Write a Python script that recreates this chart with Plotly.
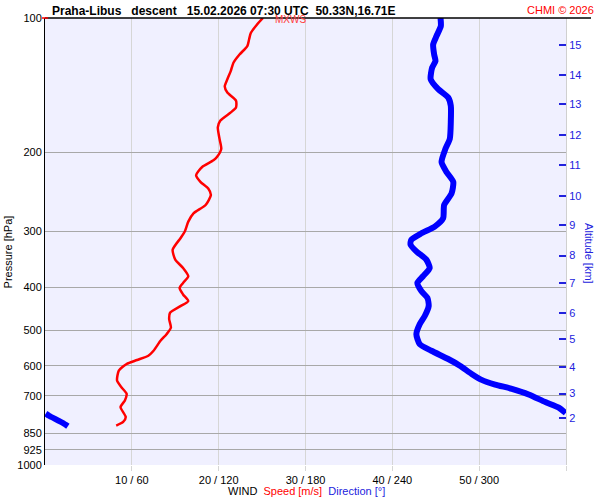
import plotly.graph_objects as go

# wind speed profile (m/s) vs pressure (hPa)
speed_hpa = [100, 103.5, 108.0, 111.7, 115.6, 120.7, 125.9, 131.3, 137.1, 142.3,
             146.8, 153.1, 158.5, 162.6, 169.6, 175.6, 186.4, 196.2, 204.7, 208.2,
             215.4, 224.8, 232.6, 240.7, 249.0, 262.0, 273.6, 285.5, 300.4, 310.9,
             329.9, 347.2, 362.5, 378.3, 391.4, 401.6, 415.4, 429.9, 441.1, 456.4,
             472.1, 492.8, 509.7, 527.5, 555.2, 569.6, 582.3, 594.3, 615.1, 647.3,
             669.9, 692.9, 717.0, 742.0, 781.0, 801.2, 816.1]
speed_ms = [25.1, 24.4, 23.7, 23.5, 23.3, 22.4, 21.7, 21.4, 21.0, 20.7,
            21.0, 22.0, 22.0, 21.4, 20.2, 19.9, 20.1, 20.3, 19.8, 19.4,
            18.1, 17.4, 17.9, 18.8, 19.1, 18.5, 17.1, 16.5, 16.1, 15.6,
            14.7, 15.0, 15.9, 16.5, 15.9, 15.5, 15.9, 16.5, 15.6, 14.4,
            14.3, 14.5, 14.0, 13.3, 12.5, 11.9, 10.6, 9.4, 8.5, 8.3,
            8.8, 9.4, 9.2, 8.7, 9.3, 9.0, 8.2]

# wind direction profile (deg) vs pressure (hPa)
dir_hpa = [100, 104.3, 109.8, 114.6, 120.7, 124.8, 129.2, 137.1, 144.3, 150.6,
           157.1, 171.1, 186.4, 196.2, 210.0, 221.0, 232.6, 247.0, 262.0, 280.7,
           292.9, 303.1, 313.5, 321.6, 332.8, 347.2, 362.5, 378.3, 391.4, 408.4,
           422.7, 441.1, 464.2, 484.2, 509.7, 536.4, 555.2, 579.3, 599.5, 625.5,
           645.1, 660.7, 675.4, 695.3, 723.3, 744.3, 765.2, 767.5, 776.9, 794.3,
           805.4, 819.0]
dir_deg = [273.3, 273.5, 270.5, 268.2, 268.9, 269.8, 267.5, 266.5, 271.7, 278.6,
           280.4, 280.4, 279.7, 276.7, 274.0, 277.4, 282.1, 280.9, 275.8, 275.1,
           269.3, 260.1, 253.1, 252.6, 256.6, 263.5, 265.8, 261.2, 257.3, 260.1,
           264.2, 265.1, 262.4, 258.9, 256.6, 258.9, 267.0, 278.6, 286.7, 294.8,
           301.7, 311.0, 322.6, 334.2, 345.7, 355.0, 359.8, 0.5, 3.1, 8.9,
           12.4, 15.8]

# altitude axis (km) and matching pressure (hPa)
alt_km = [2, 3, 4, 5, 6, 7, 8, 9, 10, 11, 12, 13, 14, 15]
alt_hpa = [786, 692, 603, 522, 457, 392, 340, 291, 250, 213, 183, 156, 134, 115]

p_ticks = [100, 200, 300, 400, 500, 600, 700, 850, 925, 1000]
x_ticks = [10, 20, 30, 40, 50, 60]
x_labels = ['10 / 60', '20 / 120', '30 / 180', '40 / 240', '50 / 300', '']

# break the direction line where it wraps past 360
dx, dy = [], []
for i, (d, p) in enumerate(zip(dir_deg, dir_hpa)):
    if i > 0 and abs(d - dir_deg[i - 1]) > 180:
        dx.append(None)
        dy.append(None)
    dx.append(d)
    dy.append(p)

font = 'Liberation Sans, Arial, sans-serif'

fig = go.Figure()
fig.add_trace(go.Scatter(x=dx, y=dy, mode='lines', xaxis='x2',
                         line=dict(color='#0000ff', width=6, shape='spline', smoothing=0.6),
                         showlegend=False))
fig.add_trace(go.Scatter(x=speed_ms, y=speed_hpa, mode='lines',
                         line=dict(color='#ff0000', width=2.5, shape='spline', smoothing=0.6),
                         showlegend=False))
# empty trace so the altitude axis gets drawn
fig.add_trace(go.Scatter(x=[None], y=[None], yaxis='y2', mode='lines',
                         showlegend=False, hoverinfo='skip'))

fig.update_layout(
    width=600, height=500,
    margin=dict(l=45, r=34, t=15, b=35),
    paper_bgcolor='white',
    plot_bgcolor='#f0f0ff',
    font=dict(family=font, size=11, color='black'),
    xaxis=dict(range=[0, 60], tickvals=x_ticks, ticktext=x_labels,
               showgrid=True, gridcolor='#d6d6d6', gridwidth=1,
               ticks='outside', ticklen=5, tickcolor='#d6d6d6',
               zeroline=False, showline=False),
    xaxis2=dict(range=[0, 360], overlaying='x', visible=False),
    yaxis=dict(type='log', range=[3, 2], tickvals=p_ticks,
               ticktext=[str(p) for p in p_ticks],
               showgrid=True, gridcolor='#a8a8a8', gridwidth=1,
               showline=True, linecolor='black', linewidth=1,
               ticks='', zeroline=False),
    yaxis2=dict(type='log', range=[3, 2], overlaying='y', side='right',
                tickvals=alt_hpa, ticktext=[str(a) for a in alt_km],
                ticks='inside', ticklen=7, tickwidth=1.5, tickcolor='#2222dd',
                tickfont=dict(color='#2222dd', size=11),
                showgrid=False, showline=True, linecolor='#d0d0d0', zeroline=False),
    shapes=[
        dict(type='line', xref='paper', yref='paper', x0=0, x1=1.048, y0=1, y1=1,
             line=dict(color='black', width=1.5)),
        dict(type='line', xref='paper', yref='paper', x0=-0.006, x1=0.006, y0=1, y1=1,
             line=dict(color='red', width=1.5)),
    ],
    annotations=[
        dict(text='<b>Praha-Libus\u00a0\u00a0\u00a0descent\u00a0\u00a0\u00a015.02.2026 07:30 UTC\u00a0\u00a050.33N,16.71E</b>',
             xref='paper', yref='paper', x=0.009, y=1.016, xanchor='left', yanchor='middle',
             showarrow=False, font=dict(size=12, color='black')),
        dict(text='CHMI © 2026', xref='paper', yref='paper', x=1.057, y=1.017,
             xanchor='right', yanchor='middle', showarrow=False,
             font=dict(size=11, color='#ff0000')),
        dict(text='MXWS', xref='paper', yref='paper', x=0.437, y=0.997,
             xanchor='left', yanchor='middle', showarrow=False,
             font=dict(size=10, color='#ff4040')),
        dict(text='WIND\u00a0\u00a0<span style="color:#ff0000">Speed [m/s]</span>\u00a0\u00a0<span style="color:#2222dd">Direction [°]</span>',
             xref='paper', yref='paper', x=0.502, y=-0.058, xanchor='center', yanchor='middle',
             showarrow=False, font=dict(size=11, color='black')),
        dict(text='Pressure [hPa]', xref='paper', yref='paper', x=-0.071, y=0.4756,
             textangle=-90, xanchor='center', yanchor='middle', showarrow=False,
             font=dict(size=11, color='black')),
        dict(text='Altitude [km]', xref='paper', yref='paper', x=1.045, y=0.473,
             textangle=90, xanchor='center', yanchor='middle', showarrow=False,
             font=dict(size=11, color='#2222dd')),
    ],
)

fig.write_html('out.html', config={'displayModeBar': False},
               post_script="document.body.style.margin='0';document.body.style.overflow='hidden';")
